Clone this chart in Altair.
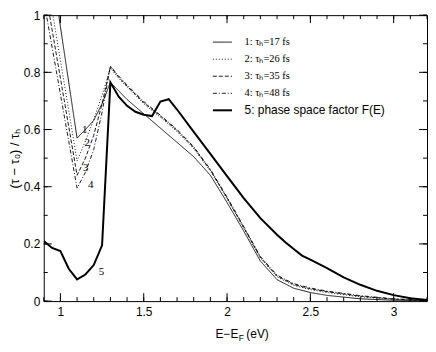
import altair as alt
import pandas as pd
import numpy as np

# ---------------- data ----------------
x_main = [0.9, 0.95, 1.0, 1.05, 1.1, 1.15, 1.2, 1.25, 1.3, 1.35, 1.4, 1.45, 1.5,
          1.6, 1.7, 1.8, 1.9, 2.0, 2.1, 2.2, 2.3, 2.4, 2.5, 2.6, 2.8, 3.0, 3.2]
tau17 = [1.35, 1.16, 0.96, 0.765, 0.57, 0.60, 0.632, 0.69, 0.765, 0.735, 0.705, 0.68, 0.655,
         0.605, 0.555, 0.505, 0.44, 0.345, 0.245, 0.14, 0.075, 0.045, 0.03, 0.02, 0.008, 0.003, 0.001]
tau26 = [1.19, 1.018, 0.842, 0.666, 0.49, 0.56, 0.635, 0.72, 0.815, 0.779, 0.748, 0.719, 0.69,
         0.643, 0.593, 0.533, 0.455, 0.358, 0.255, 0.15, 0.085, 0.055, 0.04, 0.03, 0.015, 0.006, 0.002]
tau35 = [1.12, 0.949, 0.78, 0.61, 0.44, 0.50, 0.58, 0.69, 0.82, 0.783, 0.752, 0.723, 0.694,
         0.647, 0.597, 0.537, 0.458, 0.361, 0.258, 0.153, 0.088, 0.058, 0.043, 0.033, 0.017, 0.007, 0.002]
tau48 = [1.053, 0.888, 0.724, 0.559, 0.395, 0.45, 0.53, 0.66, 0.822, 0.787, 0.756, 0.727, 0.698,
         0.65, 0.60, 0.54, 0.461, 0.364, 0.261, 0.156, 0.091, 0.061, 0.046, 0.035, 0.019, 0.008, 0.003]

x_phase = [0.9, 0.95, 1.0, 1.05, 1.1, 1.15, 1.2, 1.25, 1.3, 1.35, 1.4, 1.45, 1.5, 1.55, 1.6,
           1.65, 1.7, 1.8, 1.9, 2.0, 2.1, 2.2, 2.3, 2.35, 2.4, 2.45, 2.5, 2.55, 2.6, 2.7, 2.8,
           2.9, 3.0, 3.1, 3.2]
phase = [0.21, 0.186, 0.175, 0.113, 0.076, 0.093, 0.126, 0.195, 0.765, 0.715, 0.683, 0.662, 0.652,
         0.647, 0.698, 0.706, 0.67, 0.592, 0.515, 0.437, 0.36, 0.29, 0.232, 0.206, 0.182, 0.159,
         0.145, 0.13, 0.115, 0.083, 0.057, 0.036, 0.021, 0.01, 0.004]

series_names = ["1", "2", "3", "4", "5"]
legend_labels = ["1: τₕ=17 fs", "2: τₕ=26 fs", "3: τₕ=35 fs", "4: τₕ=48 fs",
                 "5: phase space factor F(E)"]
dash_styles = [[1, 0], [1, 2], [4, 2], [4, 2, 1, 2], [1, 0]]

curve_label_text = ["1", "2", "3", "4", "5"]
curve_label_x = [1.13, 1.145, 1.135, 1.165, 1.23]
curve_label_y = [0.60, 0.553, 0.465, 0.405, 0.10]

x_major = [1.0, 1.5, 2.0, 2.5, 3.0]
y_major = [0.0, 0.2, 0.4, 0.6, 0.8, 1.0]

X_DOMAIN = [0.9, 3.2]
Y_DOMAIN = [0.0, 1.0]
W, H = 386, 288

# ---------------- tables ----------------
rows = []
for name, ys in zip(series_names[:4], [tau17, tau26, tau35, tau48]):
    for xv, yv in zip(x_main, ys):
        rows.append({"x": xv, "y": yv, "series": name})
thin = pd.DataFrame(rows)
thick = pd.DataFrame({"x": x_phase, "y": phase, "series": "5"})

xs = alt.Scale(domain=X_DOMAIN, nice=False, zero=False)
ys_ = alt.Scale(domain=Y_DOMAIN, nice=False, zero=False)
dash_scale = alt.Scale(domain=series_names, range=dash_styles)

x_axis = alt.Axis(values=x_major, format="~g", ticks=False, domain=False, grid=False,
                  labelPadding=5, title=None, labelFont="Liberation Sans", labelFontSize=12,
                  labelColor="black")
y_axis = alt.Axis(values=y_major, format="~g", ticks=False, domain=False, grid=False,
                  labelPadding=4, title="(τ − τ₀) / τₕ", titlePadding=2,
                  labelFont="Liberation Sans", labelFontSize=12, labelColor="black",
                  titleFont="Liberation Sans", titleFontSize=13, titleFontWeight="normal",
                  titleColor="black")

def X(field):
    return alt.X(field, scale=xs, axis=x_axis)

def Y(field):
    return alt.Y(field, scale=ys_, axis=y_axis)

lines_thin = alt.Chart(thin).mark_line(clip=True, color="black", strokeWidth=0.9).encode(
    x=X("x:Q"), y=Y("y:Q"),
    strokeDash=alt.StrokeDash("series:N", scale=dash_scale, legend=None),
    detail="series:N",
)
line_thick = alt.Chart(thick).mark_line(clip=True, color="black", strokeWidth=2).encode(
    x=X("x:Q"), y=Y("y:Q"),
)

# ---- curve number labels ----
cl = pd.DataFrame({"x": curve_label_x, "y": curve_label_y, "t": curve_label_text})
curve_labels = alt.Chart(cl).mark_text(font="Liberation Serif", fontSize=11, color="black",
                                       align="left", baseline="middle").encode(
    x=X("x:Q"), y=Y("y:Q"), text="t:N")

# ---- legend (inside plot, top right) ----
leg_row_y = [(308 - p) / 302 for p in (34.5, 52.5, 70.5, 88.5, 106.5)]
leg = pd.DataFrame({"series": series_names, "label": legend_labels, "y": leg_row_y,
                    "x1": 1.915, "x2": 2.03, "xt": 2.105})
leg_thin = alt.Chart(leg).transform_filter("datum.series != '5'").mark_rule(
    color="black", strokeWidth=0.9).encode(
    x=X("x1:Q"), x2="x2:Q", y=Y("y:Q"),
    strokeDash=alt.StrokeDash("series:N", scale=dash_scale, legend=None),
)
leg_thick = alt.Chart(leg).transform_filter("datum.series == '5'").mark_rule(
    color="black", strokeWidth=2).encode(x=X("x1:Q"), x2="x2:Q", y=Y("y:Q"))
leg_text_serif = alt.Chart(leg).transform_filter("datum.series != '5'").mark_text(
    font="Liberation Serif", fontSize=10.5, align="left", baseline="middle", color="black").encode(
    x=X("xt:Q"), y=Y("y:Q"), text="label:N")
leg_text_sans = alt.Chart(leg).transform_filter("datum.series == '5'").mark_text(
    font="Liberation Sans", fontSize=12, align="left", baseline="middle", color="black").encode(
    x=X("xt:Q"), y=Y("y:Q"), text="label:N")

# ---- inward ticks on all four sides ----
x_all = [round(v, 2) for v in np.arange(0.9, 3.2001, 0.1)]
y_all = [round(v, 2) for v in np.arange(0.0, 1.0001, 0.1)]
tx = pd.DataFrame({"v": x_all})
ty = pd.DataFrame({"v": y_all})
txm = pd.DataFrame({"v": x_major})
tym = pd.DataFrame({"v": y_major})

def hticks(df, y0, y1):
    return alt.Chart(df).mark_rule(color="black", strokeWidth=1).encode(
        x=X("v:Q"), y=alt.value(y0), y2=alt.value(y1))

def vticks(df, x0, x1):
    return alt.Chart(df).mark_rule(color="black", strokeWidth=1).encode(
        y=Y("v:Q"), x=alt.value(x0), x2=alt.value(x1))

tick_layers = [
    hticks(tx, H, H - 4), hticks(txm, H, H - 8),
    hticks(tx, 0, 4), hticks(txm, 0, 8),
    vticks(ty, 0, 4), vticks(tym, 0, 8),
    vticks(ty, W, W - 4), vticks(tym, W, W - 8),
]

# ---- x-axis title with subscript ----
title_df = pd.DataFrame({"a": [0]})
xt_main = alt.Chart(title_df).mark_text(font="Liberation Sans", fontSize=12, align="right",
                                        baseline="alphabetic", color="black").encode(
    x=alt.value(196), y=alt.value(H + 37), text=alt.value("E−E"))
xt_sub = alt.Chart(title_df).mark_text(font="Liberation Sans", fontSize=8.5, align="left",
                                       baseline="alphabetic", color="black").encode(
    x=alt.value(196.5), y=alt.value(H + 40), text=alt.value("F"))
xt_unit = alt.Chart(title_df).mark_text(font="Liberation Sans", fontSize=12, align="left",
                                        baseline="alphabetic", color="black").encode(
    x=alt.value(204), y=alt.value(H + 37), text=alt.value("(eV)"))

chart = alt.layer(
    lines_thin, line_thick, curve_labels, leg_thin, leg_thick, leg_text_serif, leg_text_sans,
    *tick_layers, xt_main, xt_sub, xt_unit,
).properties(width=W, height=H, padding=0, background="white").configure_view(
    stroke="black", strokeWidth=1
)

chart.save("out.html", embed_options={"renderer": "svg", "actions": False})
